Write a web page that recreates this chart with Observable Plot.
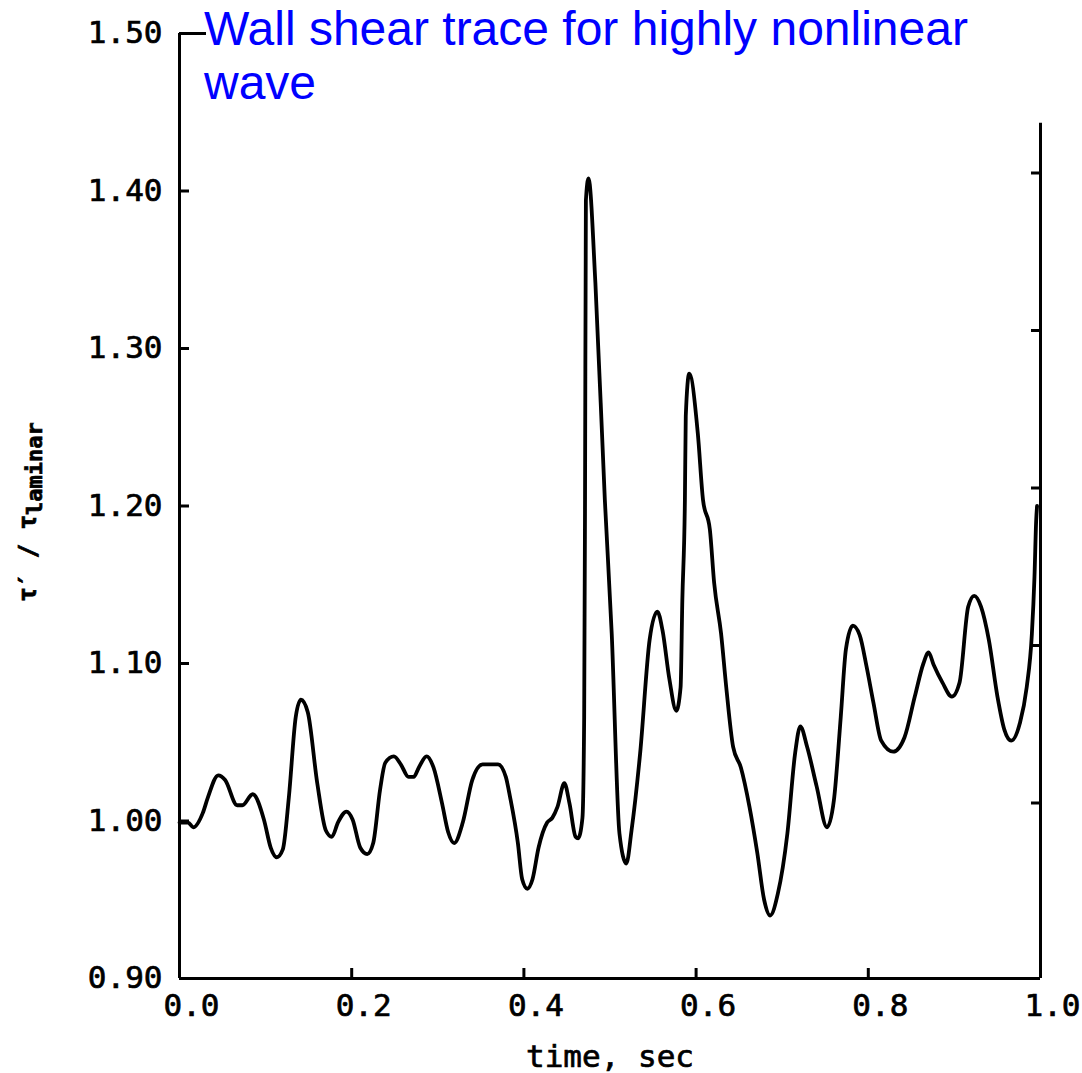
<!DOCTYPE html>
<html><head><meta charset="utf-8">
<script src="https://cdn.jsdelivr.net/npm/d3@7"></script>
<script src="https://cdn.jsdelivr.net/npm/@observablehq/plot@0.6"></script>
<style>
html,body{margin:0;padding:0;background:#fff;}
#wrap{position:relative;width:1082px;height:1073px;overflow:hidden;}
#chart{position:absolute;left:0;top:0;}
#chart svg text{stroke:black;stroke-width:0.7px;}
#title{position:absolute;left:204px;top:2px;font-family:"Liberation Sans",Arial,sans-serif;font-size:48px;line-height:54px;color:#0000ff;white-space:nowrap;z-index:2;}
</style></head><body>
<div id="wrap"><div id="chart"></div><div id="title">Wall shear trace for highly nonlinear<br>wave</div></div>
<script>
// time, sec
const time = [0.000,0.010,0.016,0.027,0.033,0.045,0.053,0.067,0.073,0.085,0.098,0.106,0.113,0.120,0.127,0.135,0.141,0.149,0.160,0.170,
0.177,0.184,0.194,0.201,0.210,0.218,0.225,0.233,0.239,0.249,0.257,0.266,0.272,0.278,0.287,0.295,0.305,0.312,0.319,0.329,
0.340,0.352,0.370,0.379,0.384,0.393,0.398,0.404,0.410,0.417,0.427,0.433,0.439,0.447,0.453,0.460,0.463,0.468,0.470,0.471,
0.472,0.475,0.483,0.494,0.502,0.511,0.519,0.525,0.535,0.546,0.555,0.561,0.569,0.577,0.582,0.584,0.587,0.588,0.592,0.602,
0.608,0.616,0.621,0.629,0.635,0.643,0.652,0.662,0.671,0.679,0.686,0.695,0.706,0.715,0.721,0.729,0.740,0.752,0.760,0.768,
0.774,0.782,0.790,0.798,0.806,0.815,0.829,0.842,0.854,0.864,0.870,0.876,0.886,0.897,0.906,0.916,0.923,0.931,0.940,0.950,
0.958,0.966,0.976,0.984,0.990,0.993,0.995,0.996];
// tau' / tau_laminar
const shear = [0.999,0.999,0.996,1.005,1.015,1.029,1.026,1.010,1.010,1.017,1.001,0.983,0.977,0.982,1.015,1.066,1.077,1.069,1.024,0.994,
0.990,0.999,1.006,1.001,0.983,0.979,0.986,1.020,1.037,1.041,1.036,1.028,1.028,1.034,1.041,1.034,1.011,0.993,0.986,0.999,
1.026,1.036,1.036,1.028,1.015,0.986,0.963,0.957,0.963,0.983,0.999,1.002,1.009,1.024,1.011,0.990,0.989,1.002,1.066,1.204,
1.394,1.408,1.342,1.204,1.119,0.992,0.973,0.994,1.043,1.115,1.133,1.121,1.090,1.070,1.085,1.140,1.204,1.257,1.284,1.246,
1.204,1.185,1.151,1.119,1.085,1.047,1.034,1.009,0.980,0.950,0.940,0.954,0.992,1.043,1.060,1.047,1.022,0.996,1.013,1.066,
1.109,1.124,1.118,1.098,1.075,1.051,1.044,1.053,1.079,1.100,1.107,1.099,1.088,1.079,1.088,1.136,1.143,1.136,1.115,1.079,
1.058,1.051,1.062,1.085,1.119,1.155,1.191,1.200];
const xTicks = [0.0,0.2,0.4,0.6,0.8,1.0];
const yTicks = [0.90,1.00,1.10,1.20,1.30,1.40,1.50];
const innerYTicks = [1.00,1.10,1.20,1.30,1.40];
const innerXTicks = [0.2,0.4,0.6,0.8];
const topTick = [1.50];
const rightAxisTop = 1.443;
const xLabel = "time, sec";

const data = time.map((t, i) => ({t, v: shear[i]}));
const yMin = d3.min(yTicks), yMax = d3.max(yTicks);
const xMin = d3.min(xTicks), xMax = d3.max(xTicks);
const axisW = 3;

const chart = Plot.plot({
  width: 1082, height: 1073,
  marginLeft: 179, marginRight: 42, marginTop: 33, marginBottom: 95,
  x: {domain: [xMin, xMax], label: null},
  y: {domain: [yMin, yMax], label: null},
  style: {fontFamily: "'DejaVu Sans Mono', monospace", fontSize: "31px", color: "black", background: "white"},
  marks: [
    Plot.ruleX([xMin], {y1: yMin, y2: yMax, strokeWidth: axisW}),
    Plot.ruleY([yMin], {x1: xMin, x2: xMax, strokeWidth: axisW}),
    Plot.ruleX([xMax], {y1: yMin, y2: rightAxisTop, strokeWidth: axisW}),
    Plot.axisY(innerYTicks, {tickSize: -10, tickFormat: () => "", strokeWidth: axisW, label: null}),
    Plot.axisY(topTick, {tickSize: -27, tickFormat: () => "", strokeWidth: axisW, label: null}),
    Plot.axisY(yTicks, {tickSize: 0, tickPadding: 17, tickFormat: d3.format(".2f"), fontSize: 31, label: null}),
    Plot.axisY(innerYTicks, {anchor: "right", tickSize: -10, tickFormat: () => "", dy: -18, strokeWidth: axisW, label: null}),
    Plot.axisX(innerXTicks, {tickSize: -10, tickFormat: () => "", strokeWidth: axisW, label: null}),
    Plot.axisX(xTicks, {tickSize: 0, tickPadding: 15, dx: 12, tickFormat: d3.format(".1f"), fontSize: 31, label: null}),
    Plot.text([xLabel], {frameAnchor: "bottom", dy: 79, fontSize: 31, lineAnchor: "middle", text: d => d}),
    Plot.line(data, {x: "t", y: "v", stroke: "black", strokeWidth: 3.8, curve: "monotone-x", strokeLinejoin: "round"})
  ]
});
document.getElementById("chart").appendChild(chart);

const svg = d3.select(chart);
const yl = svg.append("text")
  .attr("transform", "translate(36,512) rotate(-90)")
  .attr("text-anchor", "middle")
  .attr("font-family", "'DejaVu Sans Mono', monospace")
  .attr("font-size", 24)
  .attr("font-weight", "bold")
  .attr("fill", "black");
yl.append("tspan").text("τ′ / τ");
yl.append("tspan").attr("dy", 6).attr("font-size", 22).text("laminar");
</script>
</body></html>
